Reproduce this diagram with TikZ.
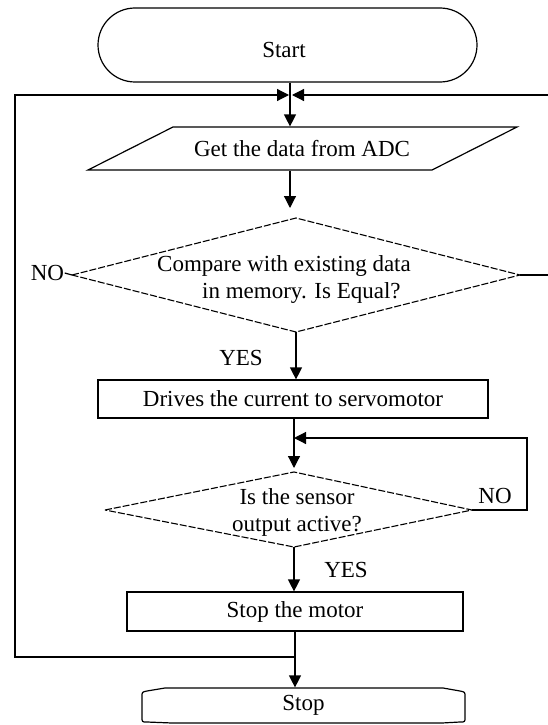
\documentclass[tikz,border=0pt]{standalone}
\usepackage{fontspec}
\setmainfont{Liberation Serif}
\usetikzlibrary{arrows.meta}
\begin{document}
\begin{tikzpicture}[x=1pt,y=-1pt,line width=1.2pt,
  every node/.style={font=\fontsize{23}{27}\selectfont,inner sep=0pt},
  arr/.style={-{Triangle[length=12pt,width=12pt]}},
  proc/.style={draw,rectangle},
  term/.style={draw,rectangle,rounded corners=37pt},
  decision/.style={draw,dashed,dash pattern=on 7pt off 2pt,line width=1.1pt},
  lbl/.style={}]
\useasboundingbox (0,0) rectangle (547,725);

% terminals and processes
\node[term,minimum width=379pt,minimum height=74pt] (start) at (287.5,45) {};
\node (starttxt) at (284,50) {Start};

\node[minimum width=259pt,minimum height=43pt] (data) at (302,148.5) {Get the data from ADC};
\draw (173,127) -- (517,127) -- (432,170) -- (88,170) -- cycle;

% decision 1
\coordinate (d1w) at (72,275);
\coordinate (d1n) at (296,218);
\coordinate (d1e) at (520,275);
\coordinate (d1s) at (296,332);
\draw[decision] (d1w) -- (d1n) -- (d1e) -- (d1s) -- cycle;
\node[align=left] (d1) at (284,279) {Compare with existing data\\\hspace*{45pt}in memory. Is Equal?};
\node (no1) at (47.5,273) {NO};
\node (yes1) at (241,358) {YES};

\node[proc,minimum width=390pt,minimum height=38pt] (box1) at (293,399) {Drives the current to servomotor};

% decision 2
\coordinate (d2w) at (105,510);
\coordinate (d2n) at (294,472);
\coordinate (d2e) at (472,510);
\coordinate (d2s) at (294,547);
\draw[decision] (d2w) -- (d2n) -- (d2e) -- (d2s) -- cycle;
\node[align=center] (d2) at (297,512) {Is the sensor\\output active?};
\node (no2) at (495,496) {NO};
\node (yes2) at (346,570) {YES};

\node[proc,minimum width=336pt,minimum height=39pt] (box2) at (295,611.5) {Stop the motor};

% stop terminal
\node[minimum width=323pt,minimum height=35pt] (stop) at (303.5,705.5) {Stop};
\draw (165,688) -- (443,688) -- (460,691) .. controls (465,692) .. (465,697) -- (465,717)
      .. controls (465,722) .. (460,722) -- (442,723) -- (172,723) -- (147,722)
      .. controls (142,722) .. (142,717) -- (142,697) .. controls (142,692) .. (147,691) -- cycle;

% junction coordinates
\coordinate (j1) at (290,95);
\coordinate (jl) at (15,95);
\coordinate (jr) at (549,95);
\coordinate (r1) at (549,275);
\coordinate (j2) at (295,657);
\coordinate (jb) at (15,657);
\coordinate (c2) at (527,510);
\coordinate (c3) at (527,438);

% connectors
\draw[arr] (start.south -| j1) -- (j1 |- data.north);
\draw[arr,shorten >=10pt] (data.south -| j1) -- (j1 |- d1n);
\draw (no1.east) -- (d1w);
\draw[arr] (d1e) -- (r1) -- (jr) -- ([xshift=2pt]j1);
\draw[arr] (j2) -- (jb) -- (jl) -- ([xshift=-1pt]j1);
\draw[arr] (d1s) -- (d1s |- box1.north);
\draw[arr,shorten >=4pt] (box1.south -| d2n) -- (d2n);
\draw[arr] (d2e) -- (c2) -- (c3) -- (d2n |- c3);
\draw[arr] (d2s) -- (d2s |- box2.north);
\draw[arr] (box2.south) -- (box2.south |- stop.north);
\end{tikzpicture}
\end{document}
